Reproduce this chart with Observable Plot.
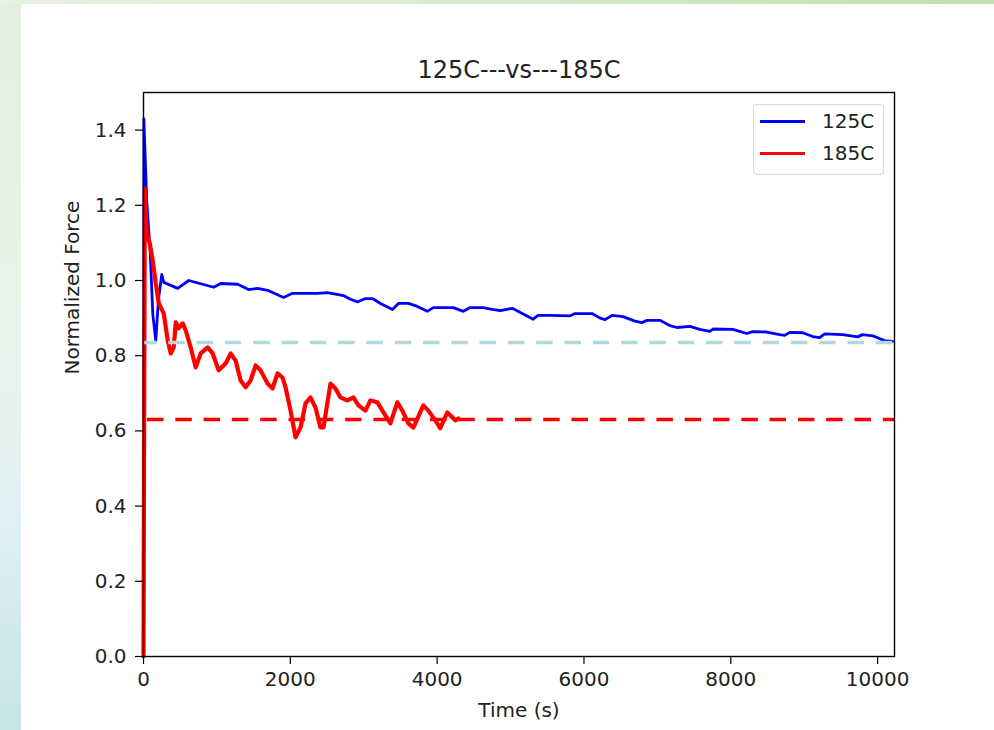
<!DOCTYPE html>
<html>
<head>
<meta charset="utf-8">
<script src="https://cdn.jsdelivr.net/npm/d3@7"></script>
<script src="https://cdn.jsdelivr.net/npm/@observablehq/plot@0.6"></script>
<style>
  html, body { margin: 0; padding: 0; }
  body {
    width: 994px; height: 730px; position: relative; overflow: hidden;
    background: linear-gradient(to bottom, #e3efdc 0%, #eaf4ec 45%, #e0f1f3 70%, #c7e3e6 100%);
    font-family: "DejaVu Sans", sans-serif;
  }
  #topstrip { position: absolute; left: 0; top: 0; width: 994px; height: 4px;
    background: linear-gradient(to right, #e6f2e3, #d4e8c8 60%, #c3deb0); }
  #panel { position: absolute; left: 21px; top: 4px; width: 973px; height: 726px; background: #fff; }
  #legend { position: absolute; left: 753px; top: 104px; width: 129px; height: 69px;
    border: 1px solid #d6d6d6; border-radius: 4px; background: rgba(255,255,255,0.8); }
  .lg-line { position: absolute; left: 6px; width: 45px; height: 2.5px; }
  .lg-text { position: absolute; left: 68px; font-size: 20px; color: #222; line-height: 20px; }
</style>
</head>
<body>
<div id="topstrip"></div>
<div id="panel"></div>
<div id="legend">
  <div class="lg-line" style="top:15px;background:#0000ff"></div>
  <div class="lg-text" style="top:6px">125C</div>
  <div class="lg-line" style="top:47px;background:#ff0000"></div>
  <div class="lg-text" style="top:38px">185C</div>
</div>
<script>
// ---- Data ----
const title = "125C---vs---185C";
const xLabel = "Time (s)";
const yLabel = "Normalized Force";
const xTicks = [0, 2000, 4000, 6000, 8000, 10000];
const yTicks = [0.0, 0.2, 0.4, 0.6, 0.8, 1.0, 1.2, 1.4];

// 125C series
const t125 = [0, 5, 30, 45, 90, 127, 167, 204, 249, 276, 466, 616, 956, 1051, 1282, 1432, 1554, 1690, 1908, 2030, 2370, 2506, 2724, 2819, 2914, 3023, 3119, 3228, 3391, 3472, 3608, 3730, 3866, 3948, 4220, 4356, 4451, 4628, 4750, 4859, 5023, 5308, 5376, 5539, 5811, 5879, 6110, 6219, 6287, 6382, 6532, 6695, 6790, 6858, 7035, 7171, 7266, 7443, 7579, 7715, 7756, 8028, 8218, 8300, 8490, 8667, 8735, 8803, 8980, 9116, 9211, 9279, 9524, 9660, 9728, 9796, 9932, 10095, 10204];
const v125 = [0, 1.43, 1.29, 1.21, 1.08, 0.91, 0.84, 0.95, 1.016, 0.995, 0.979, 1.0, 0.982, 0.992, 0.99, 0.976, 0.979, 0.974, 0.955, 0.966, 0.966, 0.968, 0.96, 0.95, 0.943, 0.952, 0.952, 0.939, 0.923, 0.939, 0.939, 0.931, 0.918, 0.928, 0.928, 0.918, 0.928, 0.928, 0.923, 0.920, 0.926, 0.897, 0.907, 0.907, 0.906, 0.912, 0.912, 0.900, 0.896, 0.907, 0.904, 0.892, 0.888, 0.894, 0.894, 0.880, 0.875, 0.878, 0.870, 0.865, 0.871, 0.870, 0.859, 0.864, 0.863, 0.856, 0.854, 0.862, 0.861, 0.851, 0.848, 0.858, 0.856, 0.852, 0.850, 0.856, 0.853, 0.840, 0.838];

// 185C series
const t185 = [0, 18, 31, 45, 86, 126, 167, 208, 276, 330, 371, 412, 439, 480, 534, 575, 643, 711, 779, 874, 942, 1024, 1119, 1187, 1255, 1323, 1391, 1459, 1527, 1595, 1690, 1758, 1826, 1894, 1935, 2003, 2071, 2139, 2207, 2275, 2343, 2411, 2452, 2547, 2615, 2683, 2779, 2860, 2928, 3023, 3091, 3186, 3254, 3363, 3458, 3526, 3608, 3676, 3812, 3880, 3975, 4043, 4138, 4207, 4248, 4288];
const v185 = [0, 1.245, 1.178, 1.125, 1.099, 1.053, 0.992, 0.94, 0.912, 0.841, 0.806, 0.822, 0.889, 0.873, 0.886, 0.867, 0.822, 0.769, 0.806, 0.822, 0.806, 0.761, 0.779, 0.806, 0.787, 0.734, 0.716, 0.734, 0.774, 0.761, 0.726, 0.713, 0.753, 0.742, 0.716, 0.654, 0.583, 0.609, 0.673, 0.689, 0.662, 0.609, 0.609, 0.726, 0.713, 0.689, 0.681, 0.689, 0.668, 0.654, 0.681, 0.676, 0.654, 0.620, 0.676, 0.654, 0.620, 0.609, 0.668, 0.654, 0.628, 0.607, 0.649, 0.636, 0.628, 0.633];

const ref125 = 0.835;
const ref185 = 0.630;

const data125 = t125.map((t, i) => ({t, v: v125[i]}));
const data185 = t185.map((t, i) => ({t, v: v185[i]}));

const font = "DejaVu Sans";
const chart = Plot.plot({
  width: 973,
  height: 726,
  marginLeft: 122,
  marginRight: 100,
  marginTop: 88,
  marginBottom: 74,
  style: {fontFamily: font, color: "#222", background: "transparent", overflow: "visible"},
  x: {domain: [0, 10230]},
  y: {domain: [0, 1.5]},
  marks: [
    Plot.line(data125, {x: "t", y: "v", stroke: "#0000ff", strokeWidth: 2.8, strokeLinejoin: "round"}),
    Plot.line(data185, {x: "t", y: "v", stroke: "#ff0000", strokeWidth: 4.2, strokeLinejoin: "round"}),
    Plot.ruleY([ref125], {stroke: "#afd9dc", strokeWidth: 3.5, strokeDasharray: "16.5,11.8", strokeDashoffset: 3}),
    Plot.ruleY([ref185], {stroke: "#ff0000", strokeWidth: 3.5, strokeDasharray: "16.5,11.8", strokeDashoffset: -4}),
    Plot.axisX({ticks: xTicks, tickSize: 8, tickPadding: 7, fontSize: 20, tickFormat: d => String(d), label: null, stroke: "#000", strokeWidth: 1.2}),
    Plot.axisY({ticks: yTicks, tickSize: 8, tickPadding: 9, fontSize: 20, tickFormat: d3.format(".1f"), label: null, stroke: "#000", strokeWidth: 1.2}),
    Plot.frame({stroke: "#000", strokeWidth: 1.4}),
    Plot.text([title], {frameAnchor: "top", dy: -32, fontSize: 24, fill: "#222"}),
    Plot.text([xLabel], {frameAnchor: "bottom", dy: 60, fontSize: 20, fill: "#222"}),
    Plot.text([yLabel], {frameAnchor: "left", dx: -71, rotate: -90, fontSize: 20, fill: "#222"})
  ]
});
chart.style.position = "absolute";
chart.style.left = "0px";
chart.style.top = "0px";
document.getElementById("panel").appendChild(chart);
</script>
</body>
</html>
